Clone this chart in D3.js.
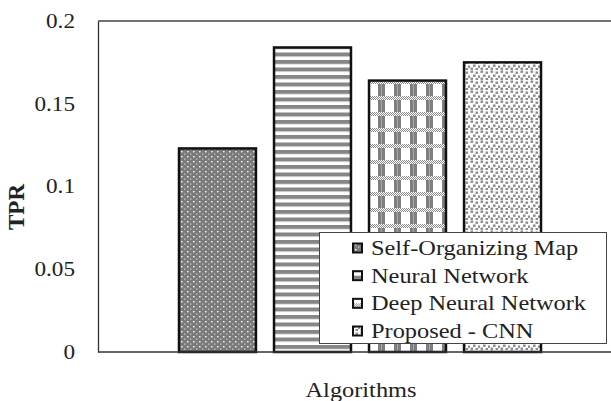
<!DOCTYPE html>
<html><head><meta charset="utf-8">
<script src="https://cdn.jsdelivr.net/npm/d3@7"></script>
<style>body{margin:0;background:#fff}svg{display:block}
svg text{font-family:"Liberation Serif","Times New Roman",Tinos,"DejaVu Serif",serif;}</style>
</head><body>
<svg id="c" width="611" height="401"></svg>
<script>
const categories = ["Self-Organizing Map","Neural Network","Deep Neural Network","Proposed - CNN"];
const values = [0.123, 0.184, 0.164, 0.175];
const yTicks = [0, 0.05, 0.1, 0.15, 0.2];
const yTickLabels = ["0", "0.05", "0.1", "0.15", "0.2"];
const xTitle = "Algorithms";
const yTitle = "TPR";
const patternIds = ["pSom","pNn","pDnn","pCnn"];

(function(){
const svg = d3.select("#c");
const SX = 1.16;
const mLeft = 98, mTop = 21, mBottom = 352;

const defs = svg.append("defs");
// SOM: gray with white dots
let p = defs.append("pattern").attr("id","pSom").attr("patternUnits","userSpaceOnUse").attr("width",6).attr("height",5);
p.append("rect").attr("width",6).attr("height",5).attr("fill","#7a7a7a");
p.append("rect").attr("x",1).attr("y",1).attr("width",1.6).attr("height",1.4).attr("fill","#f2f2f2");
p.append("rect").attr("x",4).attr("y",3.5).attr("width",1.4).attr("height",1.2).attr("fill","#c8c8c8");
// NN: horizontal stripes
p = defs.append("pattern").attr("id","pNn").attr("patternUnits","userSpaceOnUse").attr("width",8).attr("height",7.5);
p.append("rect").attr("width",8).attr("height",7.5).attr("fill","#fff");
p.append("rect").attr("width",8).attr("height",4).attr("fill","#868686");
// DNN: plaid
p = defs.append("pattern").attr("id","pDnn").attr("patternUnits","userSpaceOnUse").attr("width",16).attr("height",16)
  .attr("x",2);
p.append("rect").attr("width",16).attr("height",16).attr("fill","#fff");
p.append("rect").attr("x",8).attr("y",0).attr("width",7).attr("height",16).attr("fill","#7f7f7f");
p.append("rect").attr("x",11).attr("y",0).attr("width",1).attr("height",16).attr("fill","#a8a8a8");
p.append("rect").attr("x",0).attr("y",0).attr("width",16).attr("height",4).attr("fill","#fff");
for (let i = 0; i < 16; i++) {
  for (let j = 0; j < 4; j++) {
    if ((i + j) % 2 === 0) p.append("rect").attr("x",i).attr("y",j).attr("width",1).attr("height",1).attr("fill","#8a8a8a");
  }
}
// CNN: scattered gray squares
p = defs.append("pattern").attr("id","pCnn").attr("patternUnits","userSpaceOnUse").attr("width",10).attr("height",10);
p.append("rect").attr("width",10).attr("height",10).attr("fill","#fff");
[[0.5,0.5],[5.5,1.5],[3,4.5],[8,5.5],[0.5,7.5],[5.5,8]].forEach(([x,y])=>{
  p.append("rect").attr("x",x).attr("y",y).attr("width",2.6).attr("height",2.4).attr("fill","#8c8c8c");
});

const y = d3.scaleLinear().domain([0,0.2]).range([mBottom, mTop]);
const x = d3.scaleBand().domain(categories).range([179, 541]).paddingInner(0.19).paddingOuter(0);

// Bars
svg.append("g").selectAll("rect").data(categories).join("rect")
  .attr("x", d => x(d))
  .attr("y", (d,i) => y(values[i]))
  .attr("width", x.bandwidth())
  .attr("height", (d,i) => y(0) - y(values[i]))
  .attr("fill", (d,i) => `url(#${patternIds[i]})`)
  .attr("stroke", "#111").attr("stroke-width", 2.5);

// Y axis
const axisY = d3.axisLeft(y).tickValues(yTicks).tickSize(0).tickPadding(23).tickFormat((d,i)=>yTickLabels[i]);
const gy = svg.append("g").attr("transform",`translate(${mLeft},0)`).call(axisY);
gy.attr("font-family", null);
gy.select(".domain").attr("stroke","#333").attr("stroke-width",1.3);
gy.selectAll("text").attr("font-size",20).attr("fill","#222")
  .attr("x", -23 / SX).attr("transform",`scale(${SX},1)`);

svg.append("line").attr("x1",mLeft).attr("x2",611).attr("y1",mTop).attr("y2",mTop).attr("stroke","#444").attr("stroke-width",1.3);
svg.append("line").attr("x1",mLeft).attr("x2",611).attr("y1",mBottom).attr("y2",mBottom).attr("stroke","#333").attr("stroke-width",1.3);

// Axis titles
svg.append("text").attr("font-size",21).attr("fill","#222")
  .attr("text-anchor","middle")
  .attr("transform",`translate(361,397) scale(${SX},1)`).text(xTitle);
svg.append("text").attr("font-size",23).attr("font-weight","bold").attr("fill","#222")
  .attr("text-anchor","middle")
  .attr("transform",`translate(24,207) rotate(-90)`).text(yTitle);

// Legend
const lg = svg.append("g");
lg.append("rect").attr("x",319.5).attr("y",232.5).attr("width",287).attr("height",111)
  .attr("fill","#fff").attr("stroke","#444").attr("stroke-width",1);
const rowY = d3.scalePoint().domain(categories).range([248, 331]);
const items = lg.selectAll("g.it").data(categories).join("g").attr("class","it")
  .attr("transform", d => `translate(0,${rowY(d)})`);
items.append("rect").attr("x",353).attr("y",-4.5).attr("width",9).attr("height",9)
  .attr("fill",(d,i)=>`url(#${patternIds[i]})`).attr("stroke","#111").attr("stroke-width",2);
items.append("text").attr("font-size",21).attr("fill","#222")
  .attr("dominant-baseline","central")
  .attr("transform",`translate(371,0) scale(${SX},1)`).text(d=>d);
})();
</script>
</body></html>
